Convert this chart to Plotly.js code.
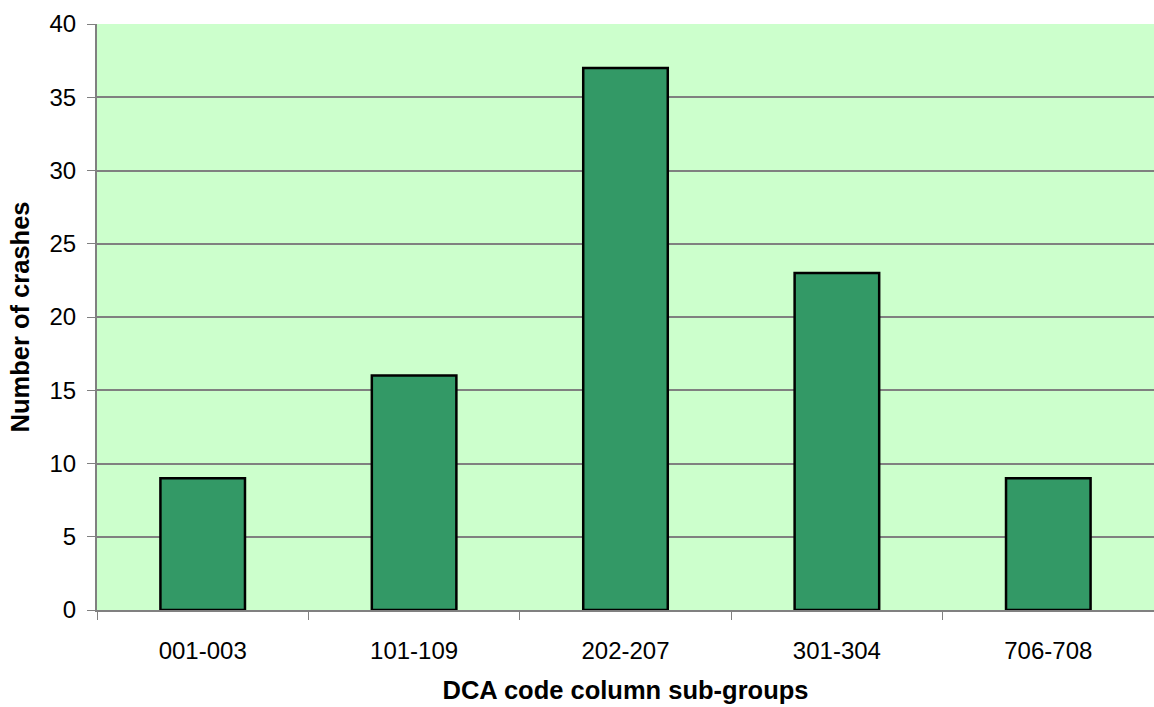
<!DOCTYPE html>
<html><head><meta charset="utf-8">
<script src="https://cdn.plot.ly/plotly-3.0.1.min.js"></script>
<style>html,body{margin:0;padding:0;background:#fff}#chart{width:1154px;height:707px}</style>
</head><body><div id="chart"></div>
<script>
const categories = ["001-003", "101-109", "202-207", "301-304", "706-708"];
const crashes = [9, 16, 37, 23, 9];
const yTicks = [0, 5, 10, 15, 20, 25, 30, 35, 40];

Plotly.newPlot("chart", [{
  type: "bar",
  x: categories,
  y: crashes,
  marker: {color: "#339966", line: {color: "#000000", width: 2.5}},
  hoverinfo: "x+y"
}], {
  width: 1154, height: 707,
  margin: {l: 97, r: 0, t: 24, b: 97},
  paper_bgcolor: "#ffffff",
  plot_bgcolor: "#CCFFCC",
  bargap: 0.6,
  showlegend: false,
  font: {family: "Liberation Sans, Arial, sans-serif", color: "#000", size: 24},
  xaxis: {
    type: "category",
    tickson: "boundaries",
    ticks: "outside", ticklen: 8, tickcolor: "#808080", tickwidth: 1,
    showline: true, linecolor: "#808080", linewidth: 2,
    showgrid: false,
    tickfont: {size: 24},
    ticklabelstandoff: 18,
    title: {text: "<b>DCA code column sub-groups</b>", font: {size: 25.5}, standoff: 18}
  },
  yaxis: {
    range: [0, 40],
    tickvals: yTicks,
    ticks: "outside", ticklen: 8, tickcolor: "#808080", tickwidth: 1,
    showline: true, linecolor: "#808080", linewidth: 2,
    gridcolor: "#808080", gridwidth: 1.5,
    zeroline: false,
    tickfont: {size: 24},
    ticklabelstandoff: 6,
    title: {text: "<b>Number of crashes</b>", font: {size: 25.5}, standoff: 13}
  }
}, {displayModeBar: false});
</script></body></html>
